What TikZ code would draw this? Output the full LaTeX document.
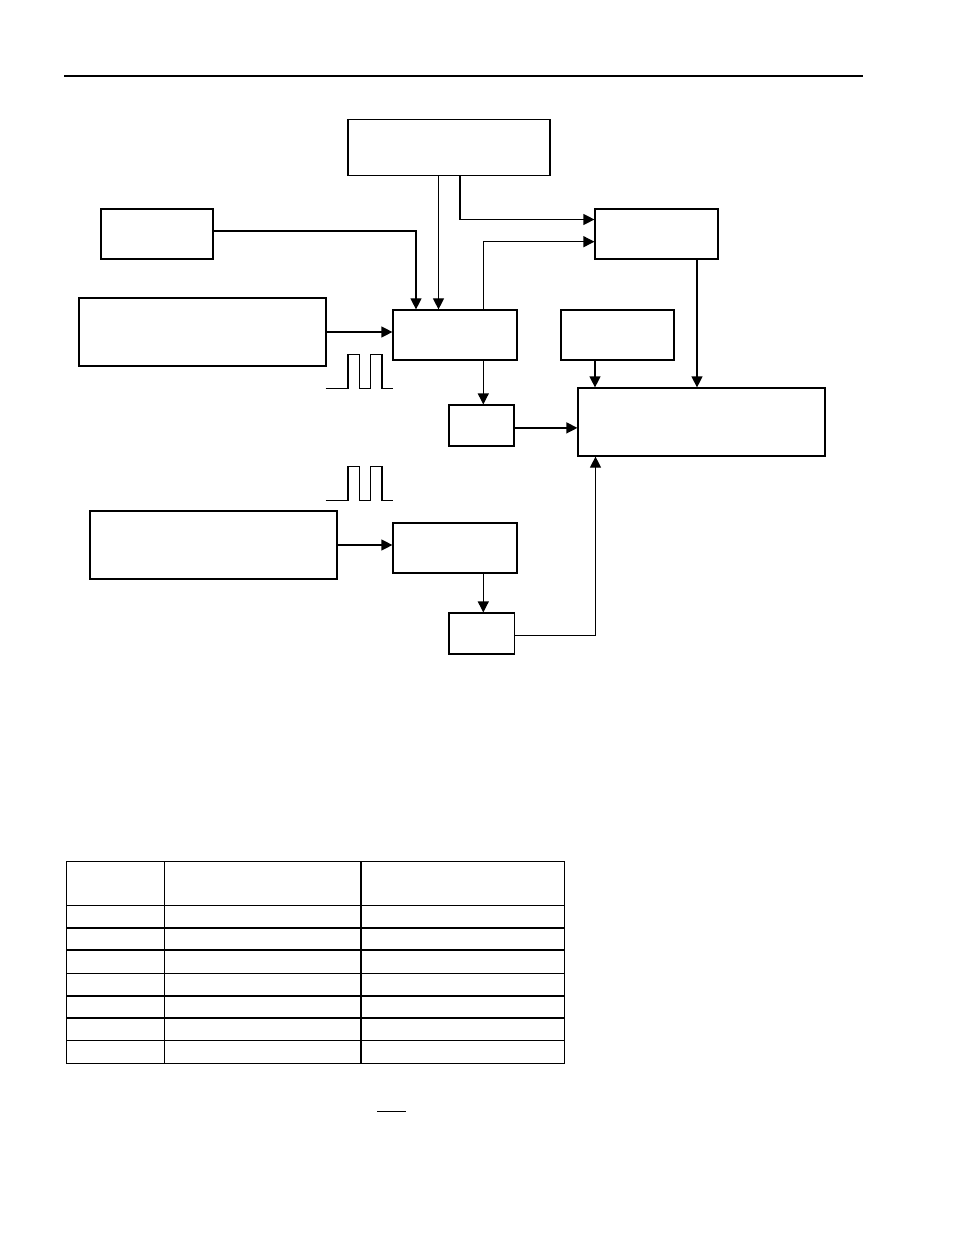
\documentclass[tikz,border=0pt]{standalone}
\usepackage{tikz}
\usetikzlibrary{positioning}
\usetikzlibrary{arrows.meta}

\begin{document}
\begin{tikzpicture}[x=0.5pt, y=-0.5pt, >={Triangle[length=5.5pt, width=5.5pt]}, line width=0.6pt]
    \tikzstyle{block}=[draw=black,rectangle,fill=none,inner sep=0pt,line width=0.6pt]
    \tikzstyle{wire}=[draw=black,line width=0.6pt]
    \tikzstyle{grid}=[draw=black,line width=0.8pt]

    \useasboundingbox (0,0) rectangle (954,1235);
    \draw[wire] (64,76) -- (863,76);

    % boxes
    \node[block, minimum width=101pt, minimum height=28pt] (top) at (449,147.4) {};
    \node[block, minimum width=56pt, minimum height=25pt] (clk) at (157,234) {};
    \node[block, minimum width=123.5pt, minimum height=34pt] (src1) at (202.5,332) {};
    \node[block, minimum width=62pt, minimum height=25pt] (mid1) at (455,335) {};
    \node[block, minimum width=61.5pt, minimum height=25pt] (tr) at (656.5,234) {};
    \node[block, minimum width=56.5pt, minimum height=25pt] (rs) at (617.5,335) {};
    \node[block, minimum width=123.5pt, minimum height=34pt] (big) at (701.5,422) {};
    \node[block, minimum width=32.5pt, minimum height=20.5pt] (sm1) at (481.5,425.5) {};
    \node[block, minimum width=123.5pt, minimum height=34pt] (src2) at (213.5,545) {};
    \node[block, minimum width=62pt, minimum height=25pt] (mid2) at (455,548) {};
    \node[block, minimum width=32.7pt, minimum height=20.5pt] (sm2) at (481.7,633.5) {};

    % connections
    \path[wire,->] ([yshift=1.5pt]clk.east) -| (mid1.north -| 416,0);
    \path[wire,->] (top.south -| 438.5,0) -- (mid1.north -| 438.5,0);
    \path[wire,->] (top.south -| 460,0) |- ([yshift=7.25pt]tr.west);
    \path[wire,->] (mid1.north -| 483.3,0) |- ([yshift=-3.85pt]tr.west);
    \path[wire,->] (src1.east) -- (src1.east -| mid1.west);
    \path[wire,->] (mid1.south -| 483.3,0) -- (sm1.north -| 483.3,0);
    \path[wire,->] ([yshift=-1.2pt]sm1.east) -- ([yshift=-1.2pt]sm1.east -| big.west);
    \path[wire,->] (rs.south -| 595,0) -- (big.north -| 595,0);
    \path[wire,->] (tr.south -| 697,0) -- (big.north -| 697,0);
    \path[wire,->] (src2.east) -- (src2.east -| mid2.west);
    \path[wire,->] (mid2.south -| 483.3,0) -- (sm2.north -| 483.3,0);
    \path[wire,->] ([yshift=-0.8pt]sm2.east) -| (big.south -| 595.5,0);

    % pulses
    \foreach \y in {388.3,500.3} {
        \draw[wire] (325.5,\y) -- (348,\y) -- (348,{\y-33.5}) -- (359.5,{\y-33.5}) -- (359.5,\y)
            -- (370.7,\y) -- (370.7,{\y-33.5}) -- (382,{\y-33.5}) -- (382,\y) -- (393,\y);
    }

    % table
    \draw[grid] (66.3,861.3) rectangle (564.3,1063.3);
    \foreach \r in {905.6,927.9,950.2,973.5,995.8,1018,1040.4}
        \draw[grid] (66.3,\r) -- (564.3,\r);
    \foreach \c in {164.3,361.2}
        \draw[grid] (\c,861.3) -- (\c,1063.3);
    \draw[wire] (377,1111.6) -- (405.5,1111.6);
\end{tikzpicture}
\end{document}
